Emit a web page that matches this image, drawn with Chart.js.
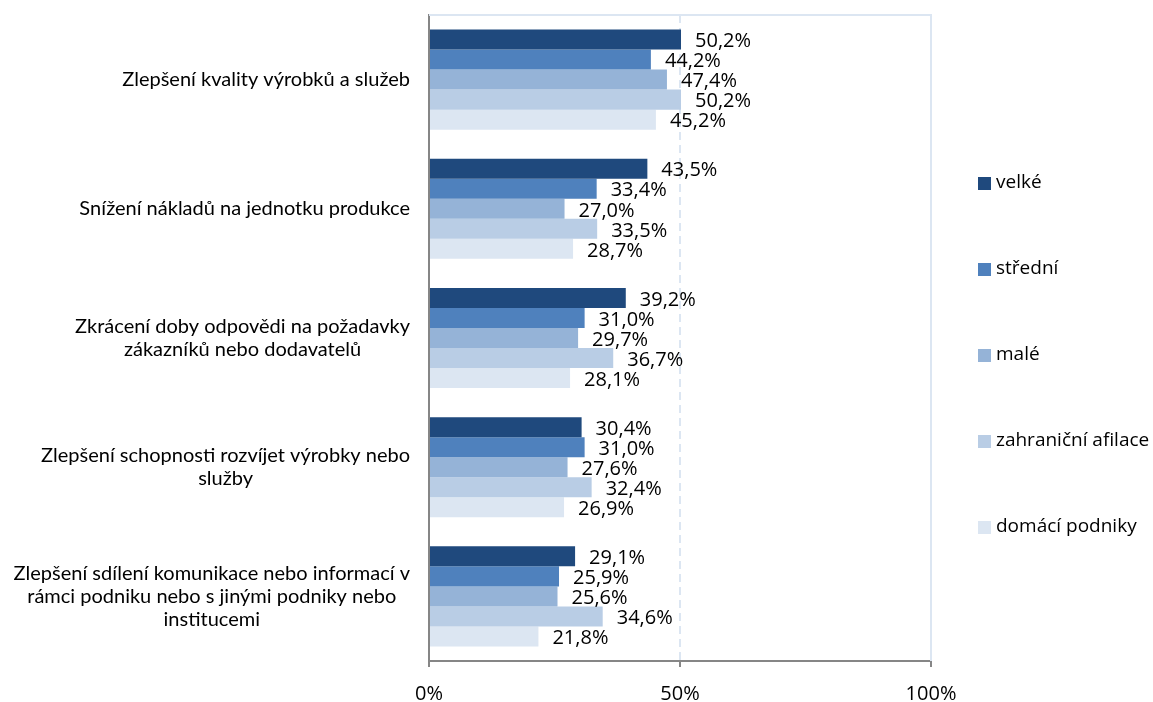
<!DOCTYPE html>
<html>
<head>
<meta charset="utf-8">
<script src="https://cdn.jsdelivr.net/npm/chart.js@4.4.1/dist/chart.umd.min.js"></script>
<style>
  html, body { margin: 0; padding: 0; background: #fff; }
  #wrap { width: 1153px; height: 702px; }
</style>
</head>
<body>
<div id="wrap"><canvas id="chart"></canvas></div>
<script>
const categories = [
  ['Zlepšení kvality výrobků a služeb'],
  ['Snížení nákladů na jednotku produkce'],
  ['Zkrácení doby odpovědi na požadavky', 'zákazníků nebo dodavatelů'],
  ['Zlepšení schopnosti rozvíjet výrobky nebo', 'služby'],
  ['Zlepšení sdílení komunikace nebo informací v', 'rámci podniku nebo s jinými podniky nebo', 'institucemi']
];
const seriesNames = ['velké', 'střední', 'malé', 'zahraniční afilace', 'domácí podniky'];
const velke = [50.2, 43.5, 39.2, 30.4, 29.1];
const stredni = [44.2, 33.4, 31.0, 31.0, 25.9];
const male = [47.4, 27.0, 29.7, 27.6, 25.6];
const zahranicni = [50.2, 33.5, 36.7, 32.4, 34.6];
const domaci = [45.2, 28.7, 28.1, 26.9, 21.8];
const xTicks = [0, 50, 100];

const colors = ['#1f497d', '#4f81bd', '#95b3d7', '#b9cde5', '#dce6f2'];
const fmt = v => v.toFixed(1).replace('.', ',') + '%';

// value labels at the end of each bar
const barLabels = {
  id: 'barLabels',
  afterDatasetsDraw(chart) {
    const ctx = chart.ctx;
    ctx.save();
    ctx.font = '20px "Open Sans"';
    ctx.fillStyle = '#000';
    ctx.textAlign = 'left';
    ctx.textBaseline = 'middle';
    chart.data.datasets.forEach((ds, i) => {
      chart.getDatasetMeta(i).data.forEach((bar, j) => {
        ctx.fillText(fmt(ds.data[j]), bar.x + 14, bar.y + 2);
      });
    });
    ctx.restore();
  }
};

// category labels: block right-aligned next to the axis, lines centred inside the block
const categoryLabels = {
  id: 'categoryLabels',
  afterDraw(chart) {
    const ctx = chart.ctx;
    const scale = chart.scales.y;
    const lineH = 23;
    ctx.save();
    ctx.font = '20px Lato';
    ctx.fillStyle = '#000';
    ctx.textAlign = 'center';
    ctx.textBaseline = 'middle';
    chart.data.labels.forEach((lines, i) => {
      const y = scale.getPixelForTick(i);
      const w = Math.max(...lines.map(l => ctx.measureText(l).width));
      const cx = scale.right - 19 - w / 2;
      lines.forEach((l, k) => {
        ctx.fillText(l, cx, y + (k - (lines.length - 1) / 2) * lineH);
      });
    });
    ctx.restore();
  }
};

// light frame on top/right + legend on the right
const frameAndLegend = {
  id: 'frameAndLegend',
  afterDraw(chart) {
    const ctx = chart.ctx;
    const a = chart.chartArea;
    ctx.save();
    ctx.strokeStyle = '#dce6f2';
    ctx.lineWidth = 2;
    ctx.beginPath();
    ctx.moveTo(a.left, a.top);
    ctx.lineTo(a.right, a.top);
    ctx.lineTo(a.right, a.bottom);
    ctx.stroke();

    ctx.font = '19px "Open Sans"';
    ctx.textBaseline = 'middle';
    ctx.textAlign = 'left';
    chart.data.datasets.forEach((ds, i) => {
      const y = 183 + i * 86;
      ctx.fillStyle = ds.backgroundColor;
      ctx.fillRect(978, y - 6, 13, 13);
      ctx.fillStyle = '#000';
      ctx.fillText(ds.label, 996, y);
    });
    ctx.restore();
  }
};

const seriesData = [velke, stredni, male, zahranicni, domaci];

new Chart(document.getElementById('chart'), {
  type: 'bar',
  data: {
    labels: categories,
    datasets: seriesData.map((d, i) => ({
      label: seriesNames[i],
      data: d,
      backgroundColor: colors[i],
      categoryPercentage: 0.775,
      barPercentage: 1.0
    }))
  },
  options: {
    indexAxis: 'y',
    responsive: true,
    maintainAspectRatio: false,
    animation: false,
    layout: { padding: { top: 15, right: 222, left: 0, bottom: 0 } },
    plugins: {
      legend: { display: false },
      tooltip: { enabled: false }
    },
    scales: {
      x: {
        min: 0,
        max: 100,
        afterBuildTicks: scale => { scale.ticks = xTicks.map(v => ({ value: v })); },
        afterFit: scale => { scale.height = 41; scale.paddingLeft = 0; scale.paddingRight = 0; },
        ticks: {
          callback: v => v + '%',
          color: '#000',
          padding: 15,
          font: { family: 'Open Sans', size: 20 }
        },
        grid: {
          color: ctx => (ctx.tick && ctx.tick.value === 50) ? '#dce6f2' : 'rgba(0,0,0,0)',
          lineWidth: 2,
          tickColor: '#868686',
          tickLength: 6,
          tickWidth: 2
        },
        border: { display: true, color: '#868686', width: 2, dash: [8, 5] }
      },
      y: {
        afterFit: scale => { scale.width = 429; scale.paddingTop = 0; scale.paddingBottom = 0; },
        ticks: { display: false },
        grid: { display: false },
        border: { display: true, color: '#868686', width: 2 }
      }
    }
  },
  plugins: [barLabels, categoryLabels, frameAndLegend]
});
</script>
</body>
</html>
